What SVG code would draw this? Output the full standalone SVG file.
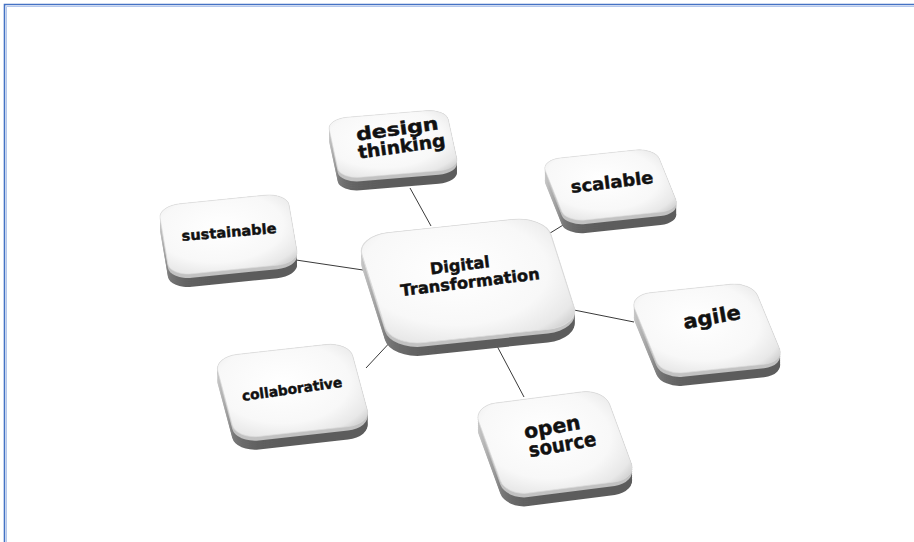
<svg xmlns="http://www.w3.org/2000/svg" xmlns:xlink="http://www.w3.org/1999/xlink" width="914" height="542" viewBox="0 0 914 542">
  <style>
    .edge { fill: none; stroke: #3a3a3a; stroke-width: 1; }
    .rim-dark { fill: url(#rimDark); }
    .rim-light { fill: #c2c2c2; }
    .face { fill: url(#faceGrad); stroke: #dcdcdc; stroke-width: 0.6; }
    .lbl { font-family: "DejaVu Sans", "Liberation Sans", sans-serif; font-weight: bold; fill: #111; stroke: #111; stroke-width: 0.45; text-anchor: middle; }
  </style>
  <defs>
    <!-- unit key cap, shaped per key by an affine matrix -->
    <rect id="pad" x="0" y="0" width="100" height="100" rx="17" ry="17"/>
    <radialGradient id="faceGrad" cx="0.45" cy="0.4" r="0.78">
      <stop offset="0" stop-color="#ffffff"/>
      <stop offset="0.62" stop-color="#f8f8f8"/>
      <stop offset="0.86" stop-color="#e8e8e8"/>
      <stop offset="1" stop-color="#c8c8c8"/>
    </radialGradient>
    <linearGradient id="rimDark" x1="0" y1="0" x2="0.25" y2="1">
      <stop offset="0" stop-color="#d4d4d4"/>
      <stop offset="0.6" stop-color="#999999"/>
      <stop offset="1" stop-color="#5c5c5c"/>
    </linearGradient>
    <!-- vertical extrusion of a key outline -->
    <filter id="extrude" x="-20%" y="-20%" width="140%" height="150%">
      <feOffset in="SourceGraphic" dy="2" result="o2"/>
      <feOffset in="SourceGraphic" dy="4" result="o4"/>
      <feOffset in="SourceGraphic" dy="6" result="o6"/>
      <feOffset in="SourceGraphic" dy="8" result="o8"/>
      <feOffset in="SourceGraphic" dy="10" result="o10"/>
      <feOffset in="SourceGraphic" dy="12" result="o12"/>
      <feOffset in="SourceGraphic" dy="13" result="o13"/>
      <feMerge>
        <feMergeNode in="o13"/><feMergeNode in="o12"/><feMergeNode in="o10"/><feMergeNode in="o8"/>
        <feMergeNode in="o6"/><feMergeNode in="o4"/><feMergeNode in="o2"/>
        <feMergeNode in="SourceGraphic"/>
      </feMerge>
    </filter>
    <filter id="extrudeTop" x="-20%" y="-20%" width="140%" height="150%">
      <feOffset in="SourceGraphic" dy="2" result="o2"/>
      <feOffset in="SourceGraphic" dy="4" result="o4"/>
      <feMerge>
        <feMergeNode in="o4"/><feMergeNode in="o2"/><feMergeNode in="SourceGraphic"/>
      </feMerge>
    </filter>
  </defs>

  <rect width="914" height="542" fill="#ffffff"/>
  <!-- frame -->
  <path d="M4.5,542 V4.5 H914" fill="none" stroke="#4472c4" stroke-width="1.6"/>
  <path d="M6.5,542 V6.5 H914" fill="none" stroke="#b4c7ec" stroke-width="1"/>

  <g id="connectors">
    <line class="edge" x1="410" y1="188" x2="431" y2="226"/>
    <line class="edge" x1="568" y1="222" x2="534" y2="243"/>
    <line class="edge" x1="296" y1="260" x2="363" y2="270"/>
    <line class="edge" x1="574" y1="310" x2="634" y2="322"/>
    <line class="edge" x1="497" y1="346" x2="524" y2="397"/>
    <line class="edge" x1="366" y1="368" x2="394" y2="338"/>
  </g>

  <g id="node-design-thinking">
    <g filter="url(#extrude)"><use xlink:href="#pad" class="rim-dark" transform="matrix(1.19,-0.10,0.13,0.60,327,119)"/></g>
    <g filter="url(#extrudeTop)"><use xlink:href="#pad" class="rim-light" transform="matrix(1.19,-0.10,0.13,0.60,327,119)"/></g>
    <use xlink:href="#pad" class="face" transform="matrix(1.19,-0.10,0.13,0.60,327,119)"/>
    <text class="lbl" font-size="18" transform="translate(399,142) rotate(-8)"><tspan x="0" y="-7" textLength="83" lengthAdjust="spacingAndGlyphs">design</tspan><tspan x="2" y="11" textLength="88" lengthAdjust="spacingAndGlyphs">thinking</tspan></text>
  </g>

  <g id="node-scalable">
    <g filter="url(#extrude)"><use xlink:href="#pad" class="rim-dark" transform="matrix(1.14,-0.12,0.25,0.62,541,160)"/></g>
    <g filter="url(#extrudeTop)"><use xlink:href="#pad" class="rim-light" transform="matrix(1.14,-0.12,0.25,0.62,541,160)"/></g>
    <use xlink:href="#pad" class="face" transform="matrix(1.14,-0.12,0.25,0.62,541,160)"/>
    <text class="lbl" font-size="17" transform="translate(612,182) rotate(-7)"><tspan x="0" y="6" textLength="83" lengthAdjust="spacingAndGlyphs">scalable</tspan></text>
  </g>

  <g id="node-sustainable">
    <g filter="url(#extrude)"><use xlink:href="#pad" class="rim-dark" transform="matrix(1.29,-0.13,0.12,0.70,158,206)"/></g>
    <g filter="url(#extrudeTop)"><use xlink:href="#pad" class="rim-light" transform="matrix(1.29,-0.13,0.12,0.70,158,206)"/></g>
    <use xlink:href="#pad" class="face" transform="matrix(1.29,-0.13,0.12,0.70,158,206)"/>
    <text class="lbl" font-size="14" transform="translate(229,232) rotate(-5)"><tspan x="0" y="5" textLength="95" lengthAdjust="spacingAndGlyphs">sustainable</tspan></text>
  </g>

  <g id="node-digital-transformation">
    <g filter="url(#extrude)"><use xlink:href="#pad" class="rim-dark" transform="matrix(1.89,-0.20,0.35,1.10,356,236)"/></g>
    <g filter="url(#extrudeTop)"><use xlink:href="#pad" class="rim-light" transform="matrix(1.89,-0.20,0.35,1.10,356,236)"/></g>
    <use xlink:href="#pad" class="face" transform="matrix(1.89,-0.20,0.35,1.10,356,236)"/>
    <text class="lbl" font-size="16" transform="translate(467,274) rotate(-7)"><tspan x="-6" y="-4" textLength="60" lengthAdjust="spacingAndGlyphs">Digital</tspan><tspan x="2" y="14" textLength="140" lengthAdjust="spacingAndGlyphs">Transformation</tspan></text>
  </g>

  <g id="node-agile">
    <g filter="url(#extrude)"><use xlink:href="#pad" class="rim-dark" transform="matrix(1.23,-0.13,0.33,0.80,629,295)"/></g>
    <g filter="url(#extrudeTop)"><use xlink:href="#pad" class="rim-light" transform="matrix(1.23,-0.13,0.33,0.80,629,295)"/></g>
    <use xlink:href="#pad" class="face" transform="matrix(1.23,-0.13,0.33,0.80,629,295)"/>
    <text class="lbl" font-size="20" transform="translate(712,318) rotate(-10)"><tspan x="0" y="6" textLength="58" lengthAdjust="spacingAndGlyphs">agile</tspan></text>
  </g>

  <g id="node-open-source">
    <g filter="url(#extrude)"><use xlink:href="#pad" class="rim-dark" transform="matrix(1.31,-0.17,0.33,0.90,473,406)"/></g>
    <g filter="url(#extrudeTop)"><use xlink:href="#pad" class="rim-light" transform="matrix(1.31,-0.17,0.33,0.90,473,406)"/></g>
    <use xlink:href="#pad" class="face" transform="matrix(1.31,-0.17,0.33,0.90,473,406)"/>
    <text class="lbl" font-size="20" transform="translate(558,437) rotate(-10)"><tspan x="-4" y="-4" textLength="57" lengthAdjust="spacingAndGlyphs">open</tspan><tspan x="3" y="15" textLength="68" lengthAdjust="spacingAndGlyphs">source</tspan></text>
  </g>

  <g id="node-collaborative">
    <g filter="url(#extrude)"><use xlink:href="#pad" class="rim-dark" transform="matrix(1.35,-0.15,0.22,0.82,214,357)"/></g>
    <g filter="url(#extrudeTop)"><use xlink:href="#pad" class="rim-light" transform="matrix(1.35,-0.15,0.22,0.82,214,357)"/></g>
    <use xlink:href="#pad" class="face" transform="matrix(1.35,-0.15,0.22,0.82,214,357)"/>
    <text class="lbl" font-size="14" transform="translate(292,389) rotate(-8)"><tspan x="0" y="5" textLength="101" lengthAdjust="spacingAndGlyphs">collaborative</tspan></text>
  </g>
</svg>
